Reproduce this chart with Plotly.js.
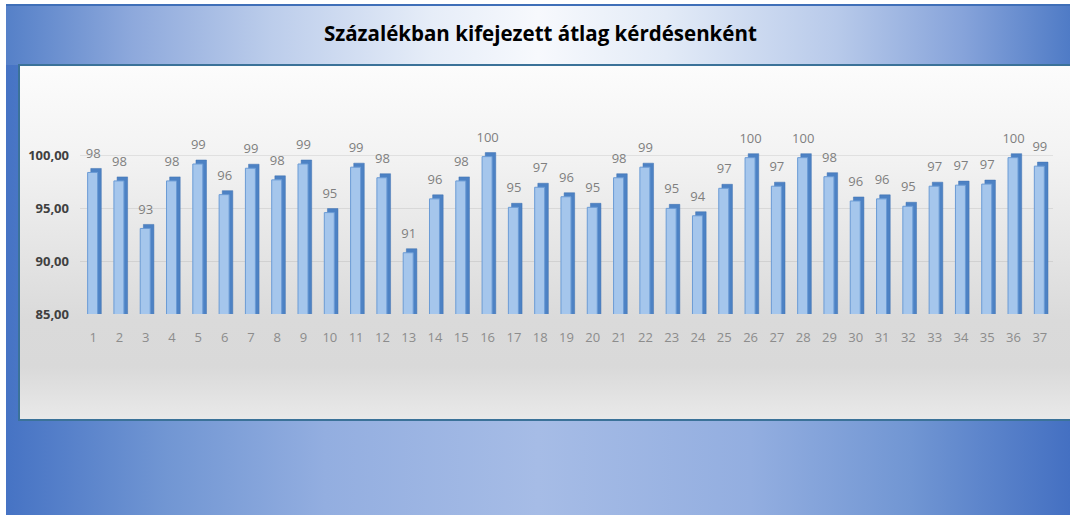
<!DOCTYPE html>
<html>
<head>
<meta charset="utf-8">
<script src="https://cdn.plot.ly/plotly-3.0.1.min.js"></script>
<style>
  html, body { margin: 0; padding: 0; background: #ffffff; }
  #wrap { position: relative; width: 1070px; height: 515px; overflow: hidden; background: #ffffff; }
  #frame { position: absolute; left: 6px; top: 4px; width: 1064px; height: 511px;
    background: linear-gradient(90deg, #4673c4 0%, #7196d3 15%, #93aee0 30%, #a6bce6 50%, #93aee0 70%, #7196d3 85%, #4470c2 100%); }
  #topband { position: absolute; left: 6px; top: 6px; width: 1064px; height: 59px;
    background: linear-gradient(90deg, #5580c8 0%, #8ea9dc 12%, #bccdeb 25%, #e6edf8 40%, #f7f9fd 50%, #e3ebf7 62%, #b8caea 78%, #86a3da 90%, #4f7bc6 100%); }
  #topline { position: absolute; left: 6px; top: 4px; width: 1064px; height: 2px; background: #3f6fb8; }
  #panel { position: absolute; left: 18px; top: 64px; width: 1052px; height: 353px;
    border-top: 2px solid #3b7299; border-left: 2px solid #3b7299; border-bottom: 2px solid #3b7299;
    background: linear-gradient(180deg, #fcfcfc 0%, #f3f3f3 25%, #e6e6e6 50%, #dadada 72%, #d9d9d9 85%, #e9e9e9 100%); }
  #chart { position: absolute; left: 0; top: 0; width: 1070px; height: 515px; }
</style>
</head>
<body>
<div id="wrap">
  <div id="frame"></div>
  <div id="topband"></div>
  <div id="topline"></div>
  <div id="panel"></div>
  <div id="chart"></div>
</div>
<script>
const categories = ["1","2","3","4","5","6","7","8","9","10","11","12","13","14","15","16","17","18","19","20","21","22","23","24","25","26","27","28","29","30","31","32","33","34","35","36","37"];
const values = [98.4, 97.6, 93.1, 97.6, 99.2, 96.3, 98.8, 97.7, 99.2, 94.6, 98.9, 97.9, 90.8, 95.9, 97.6, 99.9, 95.1,
                97.0, 96.1, 95.1, 97.9, 98.9, 95.0, 94.3, 96.9, 99.8, 97.1, 99.8, 98.0, 95.7, 95.9, 95.2, 97.1, 97.2, 97.3, 99.8, 99.0];
const yTickValues = [85, 90, 95, 100];
const yTickLabels = ["85,00", "90,00", "95,00", "100,00"];
const chartTitle = "Százalékban kifejezett átlag kérdésenként";

const yMin = 85, yMax = 101;
const depthShift = 0.38; // 3D depth, in axis units (~4px)
const labelShift = 0.75; // label lift above the front face, in axis units

// depth (side + top cap): drawn on the base axis whose range is shifted, so it sits up-and-right of the front face
const depthTrace = {
  type: "bar", x: categories, y: values, yaxis: "y",
  width: 0.4, offset: -0.09,
  marker: { color: "#4d82c4", line: { color: "#3e70b0", width: 0.5 } },
  hoverinfo: "skip", showlegend: false
};
// front face: drawn on an overlaying (visible) axis, so it is painted on top
const frontTrace = {
  type: "bar", x: categories, y: values, yaxis: "y2",
  width: 0.38, offset: -0.21,
  marker: { color: "#a5c6ec", line: { color: "#6b9bd5", width: 1 } },
  showlegend: false
};
// value labels: invisible bars on a further-shifted axis carry the outside text
const labelTrace = {
  type: "bar", x: categories, y: values, yaxis: "y3",
  width: 0.5, offset: -0.25,
  marker: { color: "rgba(0,0,0,0)", line: { width: 0 } },
  text: values.map(v => Math.round(v).toString()),
  textposition: "outside", cliponaxis: false, constraintext: "none",
  textfont: { family: "Open Sans, sans-serif", size: 13, color: "#7f7f7f" },
  hoverinfo: "skip", showlegend: false
};

const layout = {
  width: 1070, height: 515,
  paper_bgcolor: "rgba(0,0,0,0)", plot_bgcolor: "rgba(0,0,0,0)",
  margin: { l: 80, r: 17, t: 145, b: 201 },
  barmode: "overlay",
  title: { text: "<b>" + chartTitle + "</b>", x: 0.505, xanchor: "center", y: 0.935, yanchor: "middle",
           font: { family: "Open Sans, sans-serif", size: 20.5, color: "#000000" } },
  xaxis: { type: "category", showgrid: false, zeroline: false, showline: false, ticks: "",
           tickfont: { family: "Open Sans, sans-serif", size: 13, color: "#8c8c8c" }, ticklabelstandoff: 14 },
  yaxis: { range: [yMin - depthShift, yMax - depthShift], showticklabels: false, ticks: "",
           showgrid: false, zeroline: false, showline: false },
  yaxis2: { overlaying: "y", side: "left", range: [yMin, yMax], tickvals: yTickValues, ticktext: yTickLabels,
            showgrid: true, gridcolor: "rgba(0,0,0,0.08)", zeroline: false, showline: false,
            tickfont: { family: "Open Sans, sans-serif", size: 13, color: "#404040", weight: "bold" },
            ticklabelstandoff: 10 },
  yaxis3: { overlaying: "y", range: [yMin - labelShift, yMax - labelShift], visible: false,
            showgrid: false, zeroline: false }
};

Plotly.newPlot("chart", [depthTrace, frontTrace, labelTrace], layout, { displayModeBar: false, staticPlot: true });
</script>
</body>
</html>
